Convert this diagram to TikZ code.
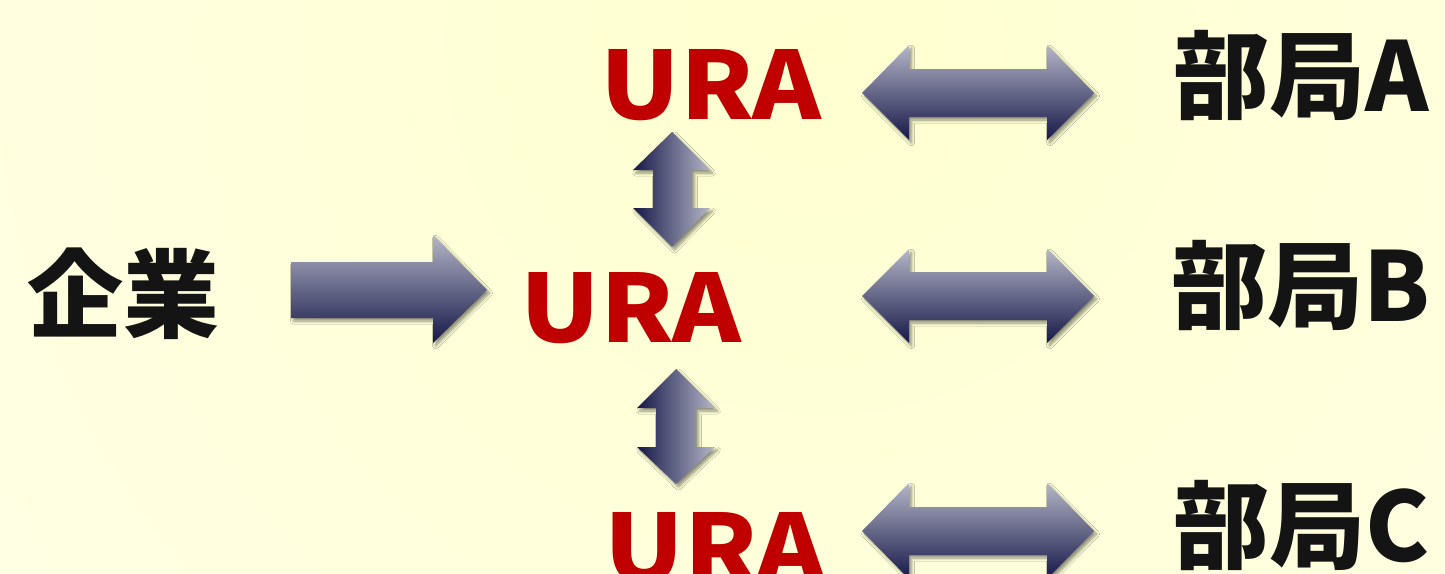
\documentclass[tikz,border=0pt]{standalone}
\usepackage{fontspec}
\newfontfamily\jpfont{Noto Sans CJK JP}
\usetikzlibrary{shadows.blur}

\definecolor{bgpale}{RGB}{255,255,238}
\definecolor{bgwarm}{RGB}{255,255,208}
\definecolor{uraRed}{RGB}{192,0,0}
\definecolor{inkBlack}{RGB}{20,20,20}
\definecolor{arrLight}{RGB}{180,182,200}
\definecolor{arrMid}{RGB}{118,120,145}
\definecolor{arrDark}{RGB}{22,24,72}

\newcommand{\widetext}[1]{\scalebox{1.11}[1]{#1}}

\tikzset{
  uralabel/.style={text=uraRed, inner sep=0pt, anchor=base,
    font=\jpfont\bfseries\fontsize{94}{100}\selectfont},
  kanjilabel/.style={text=inkBlack, inner sep=0pt, anchor=base west,
    font=\jpfont\bfseries\fontsize{96}{100}\selectfont},
  arrowshadow/.style={blur shadow={shadow xshift=2.5pt, shadow yshift=-3pt,
    shadow blur steps=6, shadow blur radius=3pt, shadow opacity=45}},
  harrow/.style={arrowshadow, top color=arrLight, middle color=arrMid,
    bottom color=arrDark},
  varrow/.style={arrowshadow, left color=arrDark, middle color=arrMid,
    right color=arrLight},
}

\begin{document}
\begin{tikzpicture}[x=1pt, y=-1pt]
  \useasboundingbox (0,0) rectangle (1445,573);

  % pale yellow backdrop, warmest near the top centre
  \begin{scope}
    \clip (0,0) rectangle (1445,573);
    \fill[bgpale] (0,0) rectangle (1445,573);
    \shade[inner color=bgwarm, outer color=bgpale] (820,40) circle (1500);
  \end{scope}

  % labels
  \node[kanjilabel] (company) at (27,330) {企業};
  \node[uralabel] (uraTop) at (711,119) {\widetext{URA}};
  \node[uralabel] (uraMid) at (631,342) {\widetext{URA}};
  \node[uralabel] (uraBot) at (715,582) {\widetext{URA}};
  \node[kanjilabel] (deptA) at (1173,111) {部局A};
  \node[kanjilabel] (deptB) at (1171,321) {部局B};
  \node[kanjilabel] (deptC) at (1173,561) {部局C};

  % company -> central URA
  \path[harrow] (291,262) -- (433,262) -- (433,235) -- (487,290)
    -- (433,343) -- (433,318) -- (291,318) -- cycle;

  % URA <-> departments
  \path[harrow] (862,93) -- (909,45) -- (909,69) -- (1047,69) -- (1047,45)
    -- (1094,93) -- (1047,140) -- (1047,117) -- (909,117) -- (909,140) -- cycle;
  \path[harrow] (862,296) -- (909,249) -- (909,272) -- (1047,272) -- (1047,249)
    -- (1094,296) -- (1047,343) -- (1047,320) -- (909,320) -- (909,343) -- cycle;
  \path[harrow] (862,531) -- (909,483) -- (909,507) -- (1047,507) -- (1047,483)
    -- (1094,531) -- (1047,579) -- (1047,555) -- (909,555) -- (909,579) -- cycle;

  % URA <-> URA
  \path[varrow] (672,132) -- (710,170) -- (692,170) -- (692,208) -- (710,208)
    -- (672,247) -- (633,208) -- (653,208) -- (653,170) -- (633,170) -- cycle;
  \path[varrow] (676,369) -- (715,408) -- (696,408) -- (696,447) -- (715,447)
    -- (676,484) -- (637,447) -- (656,447) -- (656,408) -- (637,408) -- cycle;
\end{tikzpicture}
\end{document}
